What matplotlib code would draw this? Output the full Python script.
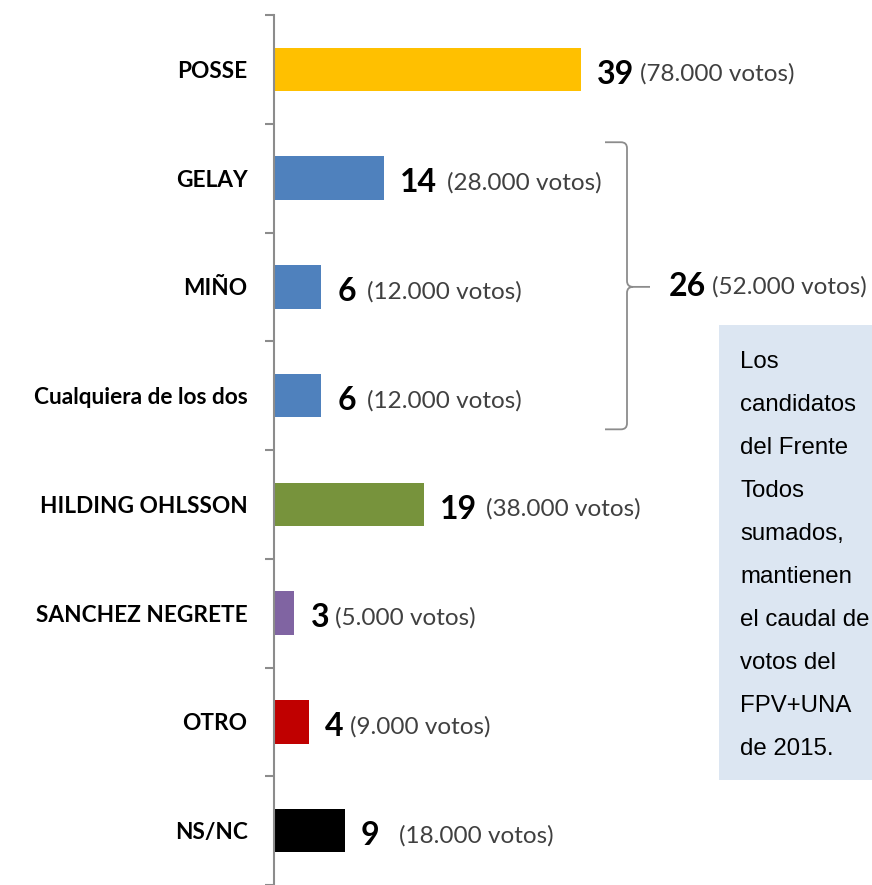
import matplotlib
matplotlib.use("Agg")
import numpy as np
import matplotlib.pyplot as plt
from matplotlib.path import Path
from matplotlib.patches import PathPatch, Rectangle
from matplotlib.transforms import IdentityTransform

# ---------------- data ----------------
categories = ["POSSE", "GELAY", "MIÑO", "Cualquiera de los dos",
              "HILDING OHLSSON", "SANCHEZ NEGRETE", "OTRO", "NS/NC"]
values = [39, 14, 6, 6, 19, 2.6, 4.4, 9]
value_labels = ["39", "14", "6", "6", "19", "3", "4", "9"]
vote_labels = ["(78.000 votos)", "(28.000 votos)", "(12.000 votos)",
               "(12.000 votos)", "(38.000 votos)", "(5.000 votos)",
               "(9.000 votos)", "(18.000 votos)"]
bar_colors = ["#FFC000", "#4F81BD", "#4F81BD", "#4F81BD",
              "#77933C", "#8064A2", "#C00000", "#000000"]
group_members = ["GELAY", "MIÑO", "Cualquiera de los dos"]
group_value = "26"
group_votes = "(52.000 votos)"
note_lines = ["Los", "candidatos", "del Frente", "Todos", "sumados,",
              "mantienen", "el caudal de", "votos del", "FPV+UNA", "de 2015."]

# ---------------- layout / style ----------------
W, H = 872, 885
label_gaps = [4, 7, 8, 8, 7, 4, 5, 14]   # gap (pt) between number and votes text

fig = plt.figure(figsize=(W / 100, H / 100), dpi=100)

# note box (behind everything)
fig.add_artist(Rectangle((719 / W, 1 - 780 / H), (W - 719) / W, (780 - 325) / H,
                         transform=fig.transFigure, facecolor="#DCE6F2",
                         edgecolor="none", zorder=-5))

ax = fig.add_axes([274 / W, 0, (W - 274) / W, 870 / H])
ax.patch.set_visible(False)

y = np.arange(len(categories))
ax.barh(y, values, height=0.4, color=bar_colors, zorder=2)
ax.set_ylim(len(categories) - 0.5, -0.5)
ax.set_xlim(0, 76)

for s in ["top", "right", "bottom"]:
    ax.spines[s].set_visible(False)
ax.spines["left"].set_color("#8C8C8C")
ax.spines["left"].set_linewidth(1.5)
ax.set_xticks([])
ax.set_yticks(y)
ax.set_yticklabels(categories, fontsize=16.3, fontweight="bold", family="Lato")
ax.set_yticks(np.arange(-0.5, len(categories), 1), minor=True)
ax.tick_params(axis="y", which="major", length=0, pad=19)
ax.tick_params(axis="y", which="minor", length=6.5, width=1.5, color="#8C8C8C",
               direction="out")

for i, (v, num, votes) in enumerate(zip(values, value_labels, vote_labels)):
    t = ax.annotate(num, xy=(v, i), xytext=(11.5, -3.5), textcoords="offset points",
                    ha="left", va="center", fontsize=23, fontweight="bold",
                    family="Lato", color="black")
    ax.annotate(votes, xy=(1, 0.5), xycoords=t, xytext=(label_gaps[i], 0),
                textcoords="offset points", ha="left", va="center",
                fontsize=17.5, family="Lato", color="#404040")

# ---------------- brace ----------------
fig.canvas.draw()
idx = [categories.index(c) for c in group_members]
y_top = min(idx) - 0.33
y_bot = max(idx) + 0.31
y_mid = (min(idx) + max(idx)) / 2
tr = ax.transData
x_left = 605 - 274   # pixels from axis
px0 = tr.transform((0, 0))[0]
xl = px0 + x_left
xv = xl + 22
xt = xl + 45
_, yt = tr.transform((0, y_top))
_, yb = tr.transform((0, y_bot))
_, ym = tr.transform((0, y_mid))
r = 6
verts = [(xl, yt), (xv - r, yt), (xv, yt), (xv, yt - r),
         (xv, ym + r), (xv, ym), (xv + r, ym),
         (xt, ym), (xv + r, ym),
         (xv, ym), (xv, ym - r), (xv, yb + r),
         (xv, yb), (xv - r, yb), (xl, yb)]
codes = [Path.MOVETO, Path.LINETO, Path.CURVE3, Path.CURVE3,
         Path.LINETO, Path.CURVE3, Path.CURVE3,
         Path.LINETO, Path.MOVETO,
         Path.CURVE3, Path.CURVE3, Path.LINETO,
         Path.CURVE3, Path.CURVE3, Path.LINETO]
fig.add_artist(PathPatch(Path(verts, codes), transform=IdentityTransform(),
                         fill=False, edgecolor="#8C8C8C", linewidth=1.3))

gx, gy = tr.inverted().transform((xt + 19, ym))
tg = ax.annotate(group_value, xy=(gx, gy), ha="left", va="center", fontsize=23,
                 fontweight="bold", family="Lato", color="black",
                 annotation_clip=False)
ax.annotate(group_votes, xy=(1, 0.5), xycoords=tg, xytext=(4, 0),
            textcoords="offset points", ha="left", va="center", fontsize=17.5,
            family="Lato", color="#404040", annotation_clip=False)

# ---------------- note text ----------------
for k, line in enumerate(note_lines):
    yc = 359 + 43 * k
    fig.text(740 / W, 1 - (yc + 9) / H, line, ha="left", va="baseline",
             fontsize=17.3, family="Liberation Sans", color="black")

fig.savefig("out.png", dpi=100)
